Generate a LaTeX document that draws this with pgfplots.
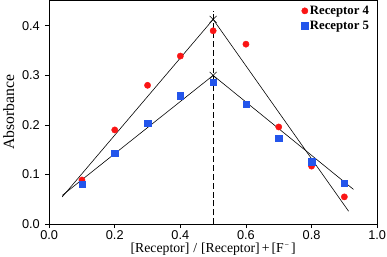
\documentclass[border=0pt]{standalone}
\usepackage{pgfplots}
\pgfplotsset{compat=1.18}
\usepackage{fontspec}
\setmainfont{Liberation Serif}
\newfontfamily\tickfont{Liberation Sans}
\definecolor{rred}{RGB}{250,20,20}
\definecolor{bblue}{RGB}{35,85,235}
\begin{document}
\begin{tikzpicture}
\begin{axis}[
  scale only axis,
  width=333bp, height=227bp,
  xmin=0, xmax=1, ymin=0, ymax=0.451,
  xtick={0,0.2,0.4,0.6,0.8,1.0},
  ytick={0,0.1,0.2,0.3,0.4},
  xticklabels={0.0,0.2,0.4,0.6,0.8,1.0},
  yticklabels={0.0,0.1,0.2,0.3,0.4},
  tick align=outside,
  tick pos=left,
  major tick length=4bp,
  axis line style={line width=1.1pt},
  every tick/.style={black, line width=0.8pt},
  tick label style={font=\tickfont\fontsize{13}{15}\selectfont},
  xticklabel style={yshift=-1bp, inner sep=1bp},
  yticklabel style={xshift=-2bp},
  xlabel style={font=\fontsize{14}{16}\selectfont, inner sep=1bp, yshift=-2bp},
  ylabel style={font=\fontsize{16}{18}\selectfont, yshift=1bp},
  xlabel={[Receptor]\hspace{4bp}/\hspace{4bp}[Receptor]\hspace{2bp}+\hspace{2bp}[F\hspace{1bp}\raisebox{6bp}{\fontsize{8}{8}\selectfont −}\hspace{2bp}]},
  ylabel={Absorbance},
  legend style={draw=none, fill=none, at={(0.985,0.99)}, anchor=north east,
    font=\bfseries\fontsize{13}{15}\selectfont, row sep=1bp,
    inner sep=1bp},
  legend image post style={xshift=-2bp},
  legend cell align=left,
  clip=false,
]
\addplot[black, line width=0.6pt, forget plot] coordinates {(0.04,0.055) (0.5,0.413) (0.913,0.026)};
\addplot[black, line width=0.6pt, forget plot] coordinates {(0.04,0.058) (0.5,0.300) (0.928,0.070)};
\addplot[black, line width=1.2pt, dash pattern=on 6bp off 3bp, forget plot] coordinates {(0.5,0) (0.5,0.43)};
\addplot[only marks, mark=x, mark size=5bp, black, line width=0.6pt, forget plot] coordinates {(0.5,0.413) (0.5,0.300)};
\addplot[only marks, mark=*, mark size=3.2bp, color=rred, mark options={draw=rred, fill=rred}] coordinates {
(0.1,0.089) (0.2,0.190) (0.3,0.280) (0.4,0.339) (0.5,0.390)
(0.6,0.363) (0.7,0.196) (0.8,0.117) (0.9,0.055)};
\addlegendentry{Receptor 4}
\addplot[only marks, mark=square*, mark size=3.2bp, color=bblue, mark options={draw=bblue, fill=bblue}] coordinates {
(0.1,0.080) (0.2,0.143) (0.3,0.204) (0.4,0.259) (0.5,0.287)
(0.6,0.242) (0.7,0.174) (0.8,0.126) (0.9,0.083)};
\addlegendentry{Receptor 5}
\end{axis}
\end{tikzpicture}
\end{document}
